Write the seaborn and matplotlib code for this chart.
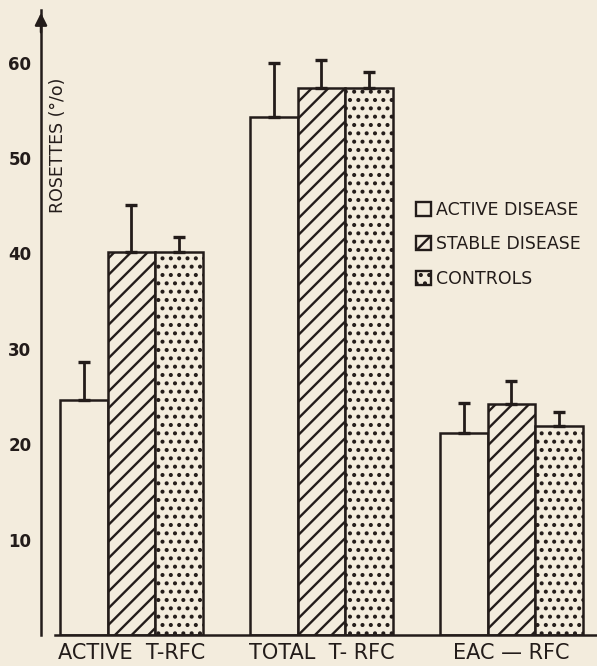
import pandas as pd
import matplotlib.pyplot as plt
import matplotlib.patches as mpatches
import seaborn as sns

# values
groups = ["ACTIVE  T-RFC", "TOTAL  T- RFC", "EAC — RFC"]
conditions = ["ACTIVE DISEASE", "STABLE DISEASE", "CONTROLS"]
active_disease = [24.6, 54.3, 21.2]
stable_disease = [40.1, 57.3, 24.2]
controls = [40.1, 57.3, 21.9]
err_active = [4.0, 5.6, 3.1]
err_stable = [5.0, 3.0, 2.4]
err_controls = [1.6, 1.7, 1.5]
y_ticks = [10, 20, 30, 40, 50, 60]

paper = "#f3ecdd"
ink = "#231c1a"

rows = []
for cond, vals, errs in zip(conditions,
                            [active_disease, stable_disease, controls],
                            [err_active, err_stable, err_controls]):
    for g, v, e in zip(groups, vals, errs):
        rows.append({"group": g, "condition": cond, "value": v, "err": e})
df = pd.DataFrame(rows)

sns.set_style("white")
plt.rcParams["font.family"] = ["Liberation Sans Narrow", "DejaVu Sans"]
plt.rcParams["hatch.linewidth"] = 1.7
plt.rcParams["hatch.color"] = ink

fig = plt.figure(figsize=(5.97, 6.66), dpi=100, facecolor=paper)
ax = fig.add_axes([0.0687, 0.0465, 0.9313, 0.9384])
ax.set_facecolor(paper)

sns.barplot(data=df, x="group", y="value", hue="condition", order=groups,
            hue_order=conditions, width=0.75, errorbar=None, ax=ax,
            legend=False)

hatches = ["", "//", ".."]
for cont, h in zip(ax.containers, hatches):
    for p in cont:
        p.set_facecolor(paper)
        p.set_edgecolor(ink)
        p.set_linewidth(1.8)
        p.set_hatch(h)

# upper error bars only
for cont, cond in zip(ax.containers, conditions):
    sub = df[df["condition"] == cond].set_index("group").loc[groups]
    xs = [p.get_x() + p.get_width() / 2 for p in cont]
    ax.errorbar(xs, sub["value"], yerr=[[0] * len(xs), sub["err"]],
                fmt="none", ecolor=ink, elinewidth=2, capsize=4, capthick=2.4)

ax.set_xlim(-0.476, 2.45)
ax.set_ylim(0, 65.5)
ax.set_yticks(y_ticks)
ax.set_yticklabels([str(t) for t in y_ticks], fontsize=12, fontweight="bold",
                   color=ink)
ax.tick_params(axis="y", direction="out", length=5, width=1.5, colors=ink,
               pad=2)
ax.tick_params(axis="x", length=0, pad=6, labelsize=15, labelcolor=ink)
ax.set_xlabel("")
ax.set_ylabel("")

for side in ["top", "right"]:
    ax.spines[side].set_visible(False)
ax.spines["left"].set_linewidth(1.8)
ax.spines["left"].set_color(ink)
ax.spines["bottom"].set_linewidth(1.8)
ax.spines["bottom"].set_color(ink)
ax.spines["bottom"].set_bounds(-0.40, 2.45)

# arrow head on the y axis
ax.annotate("", xy=(0, 1.0), xycoords="axes fraction", xytext=(0, 0.96),
            arrowprops=dict(arrowstyle="-|>", color=ink, lw=1.8,
                            mutation_scale=18))

ax.text(-0.385, 51.3, "ROSETTES (°/o)", rotation=90, ha="center",
        va="center", fontsize=12.5, color=ink)

handles = [mpatches.Patch(facecolor=paper, edgecolor=ink, linewidth=1.7,
                          hatch=h, label=c) for h, c in zip(hatches, conditions)]
fig.legend(handles=handles, loc="upper left", bbox_to_anchor=(0.67, 0.722),
           frameon=False, fontsize=12.5, handlelength=0.9, handleheight=0.9,
           handletextpad=0.3, labelspacing=0.95, labelcolor=ink)

fig.savefig("out.png", dpi=100, facecolor=paper)
